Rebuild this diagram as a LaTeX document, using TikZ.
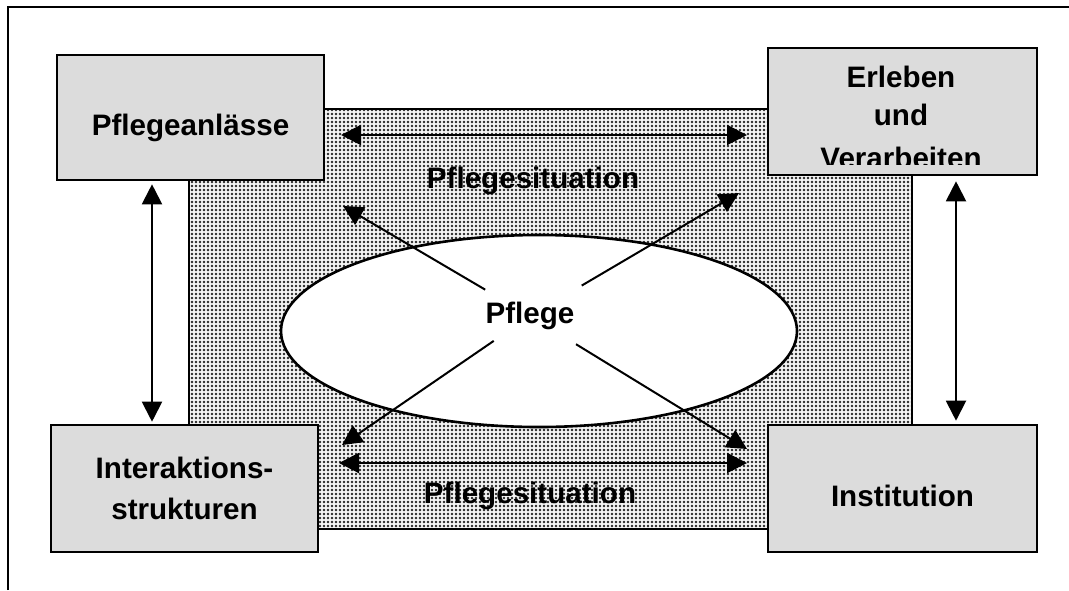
\documentclass[tikz,border=0pt]{standalone}
\usepackage{fontspec}
\setmainfont{Liberation Sans}
\usetikzlibrary{arrows.meta}
\usetikzlibrary{shapes.geometric}
\usetikzlibrary{patterns.meta}
\definecolor{boxgray}{RGB}{220,220,220}
\tikzset{>={Triangle[length=10pt,width=10pt]}}
\tikzset{
  box/.style={draw,line width=1.3pt,fill=boxgray,minimum width=133.5pt,minimum height=63.5pt,inner sep=0pt,font=\fontsize{14.8}{20.5}\selectfont\bfseries},
  twobox/.style={box,align=center},
  onebox/.style={box,text height=18pt,text depth=0pt},
  lbl/.style={inner sep=0pt,font=\fontsize{14.8}{19}\selectfont\bfseries},
  arr/.style={->,line width=1pt},
  dbl/.style={<->,line width=1pt}
}

\begin{document}
\begin{tikzpicture}[x=0.5pt,y=-0.5pt]
  \useasboundingbox (0,0) rectangle (1069,590);
  \draw[line width=1pt] (8,590) -- (8,6.5) -- (1069,6.5);
  \fill[gray!8] (189,109) rectangle (912,529);
  \draw[line width=1pt,pattern={Dots[distance=2pt,radius=0.7pt]},pattern color=black!85] (189,109) rectangle (912,529);
  \node[ellipse,draw,line width=1.3pt,fill=white,minimum width=258pt,minimum height=96pt,inner sep=0pt] (pfl) at (539,331) {};
  \node[lbl] (ptxt) at (530,316) {Pflege};
  \node[onebox,minimum height=62.5pt] (anl) at (190.5,117.5) {Pflegeanlässe};
  \node[box,minimum width=134.5pt] (erl) at (902.5,111.5) {};
  \begin{scope}
    \clip ([yshift=6pt]erl.south west) rectangle (erl.north east);
    \node[lbl,align=center] (erltxt) at (901,117) {Erleben\\und\\[2.5pt]Verarbeiten};
  \end{scope}
  \node[twobox] (int) at (184.5,488.5) {Interaktions-\\strukturen};
  \node[onebox,minimum width=134.5pt] (ins) at (902.5,488.5) {Institution};
  \coordinate (sa) at (341,135);
  \coordinate (sb) at (747,135);
  \coordinate (sc) at (339,463);
  \coordinate (sd) at (747,463);
  \coordinate (tl) at (343,206);
  \coordinate (tr) at (739,193);
  \coordinate (bl) at (342,445);
  \coordinate (br) at (747,449);
  \draw[dbl] (sa) -- (sb);
  \draw[dbl] (sc) -- (sd);
  \node[lbl] (sit1) at (533,181) {Pflegesituation};
  \node[lbl] (sit2) at (530,496) {Pflegesituation};
  \draw[dbl] ([xshift=-19.25pt,yshift=-1.5pt]anl.south) -- ([xshift=-16.25pt,yshift=1pt]int.north);
  \draw[dbl] ([xshift=26.75pt,yshift=-2.5pt]erl.south) -- ([xshift=26.75pt,yshift=1.5pt]ins.north);
  \draw[arr,shorten <=26pt] (ptxt.center) -- (tl);
  \draw[arr,shorten <=30pt] (ptxt.center) -- (tr);
  \draw[arr,shorten <=22pt] (ptxt.center) -- (bl);
  \draw[arr,shorten <=27pt] (ptxt.center) -- (br);
\end{tikzpicture}
\end{document}
